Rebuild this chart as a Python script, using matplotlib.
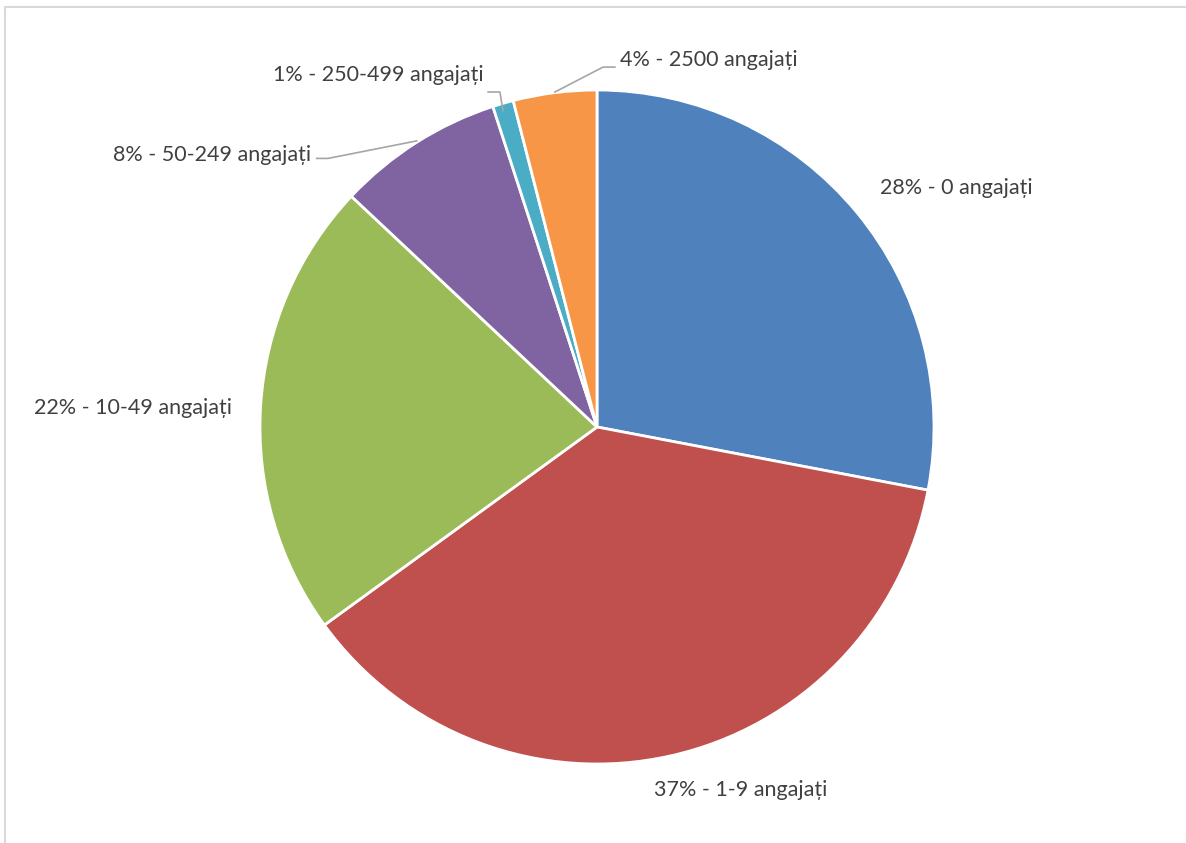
import matplotlib
matplotlib.use("Agg")
import matplotlib.pyplot as plt
from matplotlib.patches import Rectangle

plt.rcParams['font.family'] = ['Lato', 'DejaVu Sans']

# data
categories = ["0 angajați", "1-9 angajați", "10-49 angajați", "50-249 angajați",
              "250-499 angajați", "2500 angajați"]
shares = [28, 37, 22, 8, 1, 4]
colors = ["#4F81BD", "#C0504D", "#9BBB59", "#8064A2", "#4BACC6", "#F79646"]

# label placement (data coords, radius = 1) and alignment
label_pos = [(0.84, 0.709), (0.427, -1.077), (-1.083, 0.056),
             (-0.849, 0.807), (-0.335, 1.045), (0.068, 1.089)]
label_ha = ["left", "center", "right", "right", "right", "left"]
# leader lines for the small slices
leaders = {
    3: [(-0.832, 0.797), (-0.798, 0.797), (-0.535, 0.849)],
    4: [(-0.323, 0.994), (-0.288, 0.994), (-0.279, 0.938)],
    5: [(-0.125, 0.994), (0.018, 1.068), (0.053, 1.068)],
}

W, H = 1186, 843
fig = plt.figure(figsize=(W / 100, H / 100), dpi=100)

# light frame, only top/left visible like the source crop
fig.patches.append(Rectangle((5 / W, -0.05), 1.1, (H - 7) / H + 0.05,
                             transform=fig.transFigure, fill=False,
                             edgecolor="#D9D9D9", linewidth=1.5))

cx, cy, r = 597, 427, 337
ax = fig.add_axes([(cx - r) / W, (H - cy - r) / H, 2 * r / W, 2 * r / H])
ax.pie(shares, colors=colors, startangle=90, counterclock=False, radius=1,
       wedgeprops=dict(edgecolor="white", linewidth=2))
ax.set_xlim(-1, 1)
ax.set_ylim(-1, 1)
ax.set_aspect("equal")
ax.axis("off")

for i, (cat, s) in enumerate(zip(categories, shares)):
    x, y = label_pos[i]
    ax.text(x, y, f"{s}% - {cat}", ha=label_ha[i], va="center",
            fontsize=15.5, color="#404040", clip_on=False)
    if i in leaders:
        xs, ys = zip(*leaders[i])
        ax.plot(xs, ys, color="#A6A6A6", linewidth=1.2, clip_on=False)

fig.savefig("out.png", dpi=100)
